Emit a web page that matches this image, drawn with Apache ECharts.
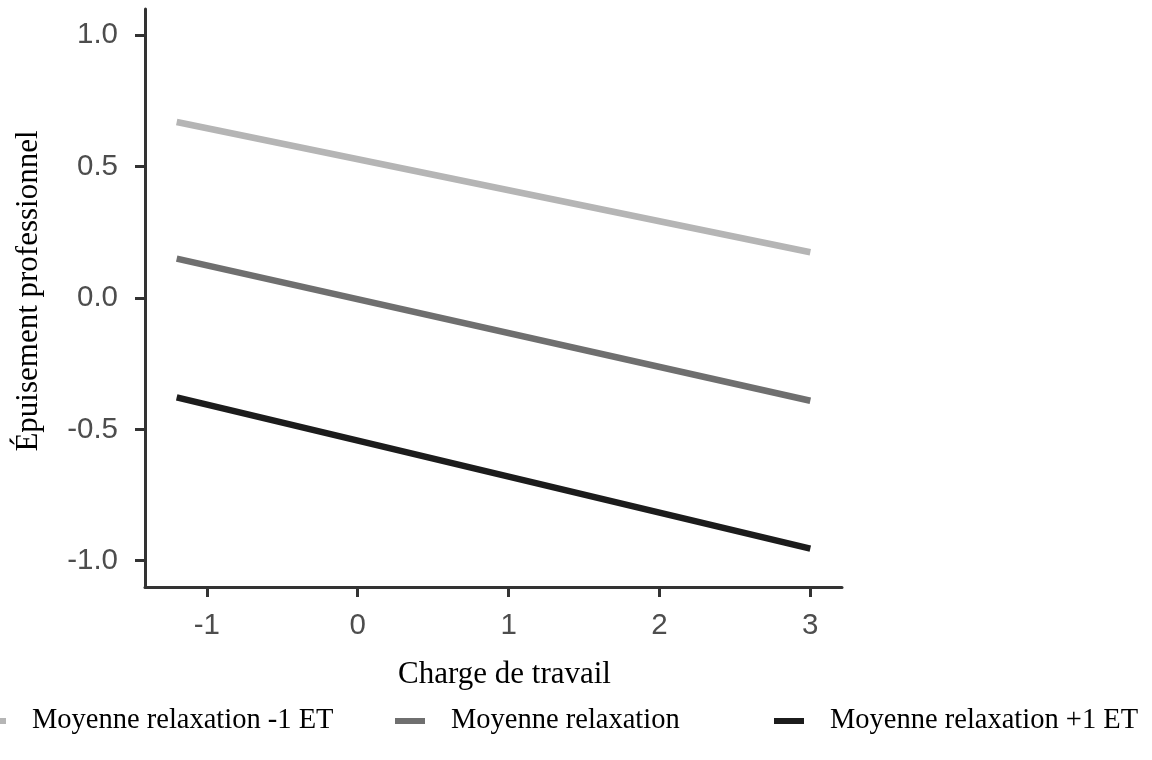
<!DOCTYPE html>
<html>
<head>
<meta charset="utf-8">
<script src="https://cdn.jsdelivr.net/npm/echarts@6/dist/echarts.min.js"></script>
<style>
html,body{margin:0;padding:0;background:#fff;}
#chart{width:1152px;height:760px;}
</style>
</head>
<body>
<div id="chart"></div>
<script>
var xValues = [-1.2, 3];
var lowRelax = [0.670, 0.174];
var meanRelax = [0.150, -0.391];
var highRelax = [-0.378, -0.954];
var seriesNames = ['Moyenne relaxation -1 ET', 'Moyenne relaxation', 'Moyenne relaxation +1 ET'];
var xTicks = [-1, 0, 1, 2, 3];
var yTicks = [-1, -0.5, 0, 0.5, 1];
var yTickLabels = ['-1.0', '-0.5', '0.0', '0.5', '1.0'];
var xTitle = 'Charge de travail';
var yTitle = 'Épuisement professionnel';

function pairs(xs, ys) { return xs.map(function (x, i) { return [x, ys[i]]; }); }

var colors = ['#b5b5b5', '#6f6f6f', '#1c1c1c'];
var serif = '"Liberation Serif", "DejaVu Serif", serif';
var sans = '"Liberation Sans", Arial, sans-serif';

function legendAt(name, left) {
  return {
    data: [name],
    left: left,
    top: 704,
    padding: 0,
    icon: 'rect',
    itemWidth: 30,
    itemHeight: 6,
    selectedMode: false,
    textStyle: { fontFamily: serif, fontSize: 28.5, color: '#000', lineHeight: 34, padding: [0, 0, 0, 21] }
  };
}

var chart = echarts.init(document.getElementById('chart'));
chart.setOption({
  backgroundColor: '#fff',
  animation: false,
  grid: { left: 145, top: 9, right: 310, bottom: 173, containLabel: false },
  xAxis: {
    type: 'value',
    min: -1.41,
    max: 3.21,
    name: xTitle,
    nameLocation: 'middle',
    nameGap: 72,
    nameTextStyle: { fontFamily: serif, fontSize: 31, color: '#000', padding: [0, 0, 0, 22] },
    axisLine: { show: true, onZero: false, lineStyle: { color: '#333', width: 3 } },
    axisTick: { show: true, length: 10, lineStyle: { color: '#333', width: 3 }, customValues: xTicks },
    axisLabel: { fontFamily: sans, fontSize: 29.5, color: '#4d4d4d', margin: 24, customValues: xTicks },
    splitLine: { show: false }
  },
  yAxis: {
    type: 'value',
    min: -1.1,
    max: 1.1,
    name: yTitle,
    nameLocation: 'middle',
    nameGap: 101,
    nameTextStyle: { fontFamily: serif, fontSize: 31, color: '#000', padding: [0, 0, 0, 14] },
    axisLine: { show: true, onZero: false, lineStyle: { color: '#333', width: 3 } },
    axisTick: { show: true, length: 10, lineStyle: { color: '#333', width: 3 }, customValues: yTicks },
    axisLabel: {
      fontFamily: sans, fontSize: 29.5, color: '#4d4d4d', margin: 27, customValues: yTicks,
      formatter: function (v) { var i = yTicks.indexOf(v); return i >= 0 ? yTickLabels[i] : ''; }
    },
    splitLine: { show: false }
  },
  legend: [
    legendAt(seriesNames[0], -24),
    legendAt(seriesNames[1], 395),
    legendAt(seriesNames[2], 774)
  ],
  series: [
    { name: seriesNames[0], type: 'line', data: pairs(xValues, lowRelax), showSymbol: false, symbol: 'none',
      itemStyle: { color: colors[0] }, lineStyle: { color: colors[0], width: 6.5, cap: 'butt' } },
    { name: seriesNames[1], type: 'line', data: pairs(xValues, meanRelax), showSymbol: false, symbol: 'none',
      itemStyle: { color: colors[1] }, lineStyle: { color: colors[1], width: 6.5, cap: 'butt' } },
    { name: seriesNames[2], type: 'line', data: pairs(xValues, highRelax), showSymbol: false, symbol: 'none',
      itemStyle: { color: colors[2] }, lineStyle: { color: colors[2], width: 6.5, cap: 'butt' } }
  ]
});
</script>
</body>
</html>
